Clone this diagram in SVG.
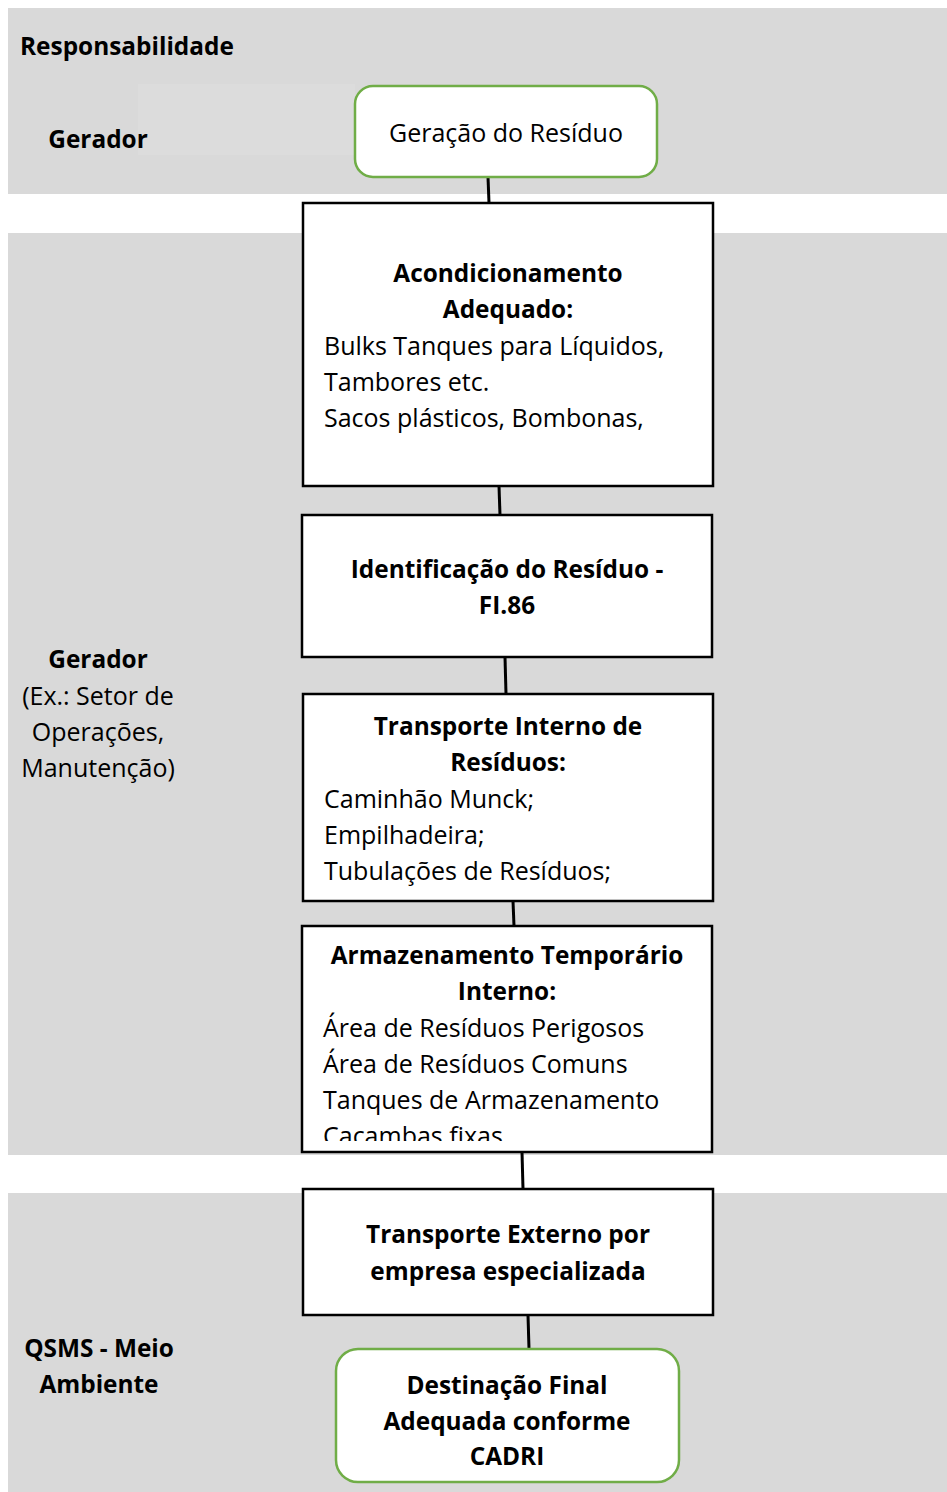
<svg xmlns="http://www.w3.org/2000/svg" width="947" height="1492" viewBox="0 0 947 1492">
<defs>
<style>
.band{fill:#d9d9d9}
.box{fill:#ffffff;stroke:#000000;stroke-width:2.5}
.rbox{fill:#ffffff;stroke:#70ad47;stroke-width:2.5}
.conn{stroke:#000000;stroke-width:3;fill:none}
text{font-family:"Open Sans","Noto Sans",sans-serif;font-size:25px;fill:#000000}
.b{font-weight:bold;font-size:24.4px}
.c{text-anchor:middle}
</style>
<clipPath id="clipArm"><rect x="303" y="927" width="408" height="214"/></clipPath>
</defs>
<g id="bands">
<rect class="band" x="8" y="8" width="939" height="186"/>
<rect x="138" y="84" width="217" height="71" fill="#dcdcdc"/>
<rect class="band" x="8" y="233" width="939" height="922"/>
<rect class="band" x="8" y="1193" width="939" height="299"/>
</g>
<g id="labels">
<text class="b" x="20" y="55">Responsabilidade</text>
<text class="b c" x="98" y="148">Gerador</text>
<text class="b c" x="98" y="668">Gerador</text>
<text class="c" x="98" y="705">(Ex.: Setor de</text>
<text class="c" x="98" y="741">Operações,</text>
<text class="c" x="98" y="777">Manutenção)</text>
<text class="b c" x="99" y="1357">QSMS - Meio</text>
<text class="b c" x="99" y="1393">Ambiente</text>
</g>
<g id="connectors">
<line class="conn" x1="488" y1="177" x2="489" y2="203"/>
<line class="conn" x1="499" y1="486" x2="500" y2="515"/>
<line class="conn" x1="505" y1="657" x2="506" y2="694"/>
<line class="conn" x1="513" y1="901" x2="514" y2="926"/>
<line class="conn" x1="522" y1="1152" x2="523" y2="1189"/>
<line class="conn" x1="528" y1="1315" x2="529" y2="1349"/>
</g>
<g id="node-geracao">
<rect class="rbox" x="355" y="86" width="302" height="91" rx="18"/>
<text class="c" x="506" y="142">Geração do Resíduo</text>
</g>
<g id="node-acondicionamento">
<rect class="box" x="303" y="203" width="410" height="283"/>
<text class="b c" x="508" y="282">Acondicionamento</text>
<text class="b c" x="508" y="318">Adequado:</text>
<text x="324" y="355">Bulks Tanques para Líquidos,</text>
<text x="324" y="391">Tambores etc.</text>
<text x="324" y="427">Sacos plásticos, Bombonas,</text>
</g>
<g id="node-identificacao">
<rect class="box" x="302" y="515" width="410" height="142"/>
<text class="b c" x="507" y="578">Identificação do Resíduo -</text>
<text class="b c" x="507" y="614">FI.86</text>
</g>
<g id="node-transporte-interno">
<rect class="box" x="303" y="694" width="410" height="207"/>
<text class="b c" x="508" y="735">Transporte Interno de</text>
<text class="b c" x="508" y="771">Resíduos:</text>
<text x="324" y="808">Caminhão Munck;</text>
<text x="324" y="844">Empilhadeira;</text>
<text x="324" y="880">Tubulações de Resíduos;</text>
</g>
<g id="node-armazenamento">
<rect class="box" x="302" y="926" width="410" height="226"/>
<text class="b c" x="507" y="964">Armazenamento Temporário</text>
<text class="b c" x="507" y="1000">Interno:</text>
<g clip-path="url(#clipArm)">
<text x="323" y="1037">Área de Resíduos Perigosos</text>
<text x="323" y="1073">Área de Resíduos Comuns</text>
<text x="323" y="1109">Tanques de Armazenamento</text>
<text x="323" y="1145">Cacambas fixas</text>
</g>
</g>
<g id="node-transporte-externo">
<rect class="box" x="303" y="1189" width="410" height="126"/>
<text class="b c" x="508" y="1243">Transporte Externo por</text>
<text class="b c" x="508" y="1280">empresa especializada</text>
</g>
<g id="node-destinacao">
<rect class="rbox" x="336" y="1349" width="343" height="133" rx="22"/>
<text class="b c" x="507" y="1394">Destinação Final</text>
<text class="b c" x="507" y="1430">Adequada conforme</text>
<text class="b c" x="507" y="1465">CADRI</text>
</g>
</svg>
